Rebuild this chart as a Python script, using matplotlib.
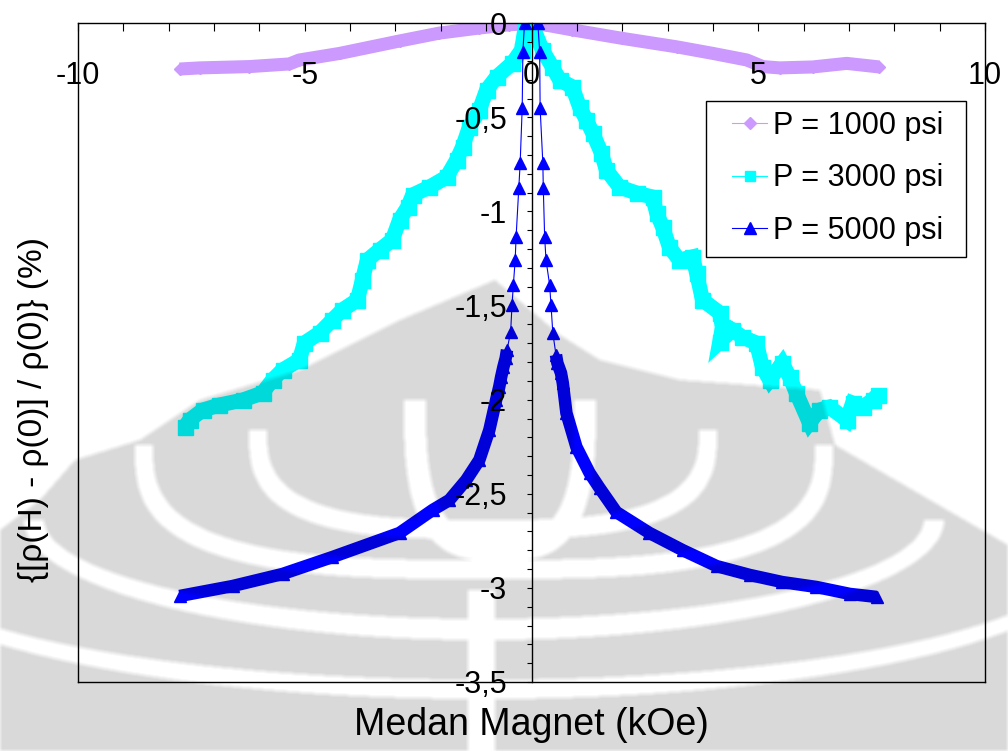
import numpy as np
import matplotlib
matplotlib.use("Agg")
import matplotlib.pyplot as plt
from matplotlib.lines import Line2D
from matplotlib.patches import Rectangle
from matplotlib.ticker import MultipleLocator, FuncFormatter

plt.rcParams['font.family'] = ['Liberation Sans', 'DejaVu Sans']
plt.rcParams['axes.unicode_minus'] = False

# Magnetic field H (kOe) and relative change in resistivity (%)
h_1000 = [-7.76, -7.32, -6.22, -5.34, -5.12, -4.23, -2.91, -2.03, -1.15, -0.49, 0.0,
          0.33, 0.90, 2.00, 3.20, 4.00, 4.75, 5.10, 5.47, 6.20, 6.95, 7.67]
mr_1000 = [-0.243, -0.237, -0.230, -0.216, -0.195, -0.160, -0.094, -0.052, -0.025, -0.008, 0.0,
           -0.010, -0.035, -0.080, -0.125, -0.160, -0.195, -0.230, -0.237, -0.232, -0.213, -0.232]

h_3000 = [-7.65, -7.54, -7.25, -6.88, -6.37, -5.93, -5.71, -5.49, -5.12, -5.01, -4.67,
          -4.39, -4.17, -3.84, -3.73, -3.62, -3.35, -3.07, -2.91, -2.73, -2.62, -2.25,
          -1.87, -1.65, -1.52, -1.37, -1.15, -0.99, -0.77, -0.42, -0.22, -0.15, 0.0,
          0.24, 0.46, 0.62, 0.90, 1.06, 1.21, 1.35, 1.54, 1.65, 1.94, 2.32, 2.67,
          2.76, 2.89, 3.04, 3.26, 3.55, 3.64, 3.77, 4.15, 4.21, 4.15, 4.43, 4.65,
          4.96, 5.09, 5.25, 5.53, 5.69, 5.84, 6.13, 6.35, 6.57, 6.95, 7.08, 7.30,
          7.52, 7.63]
mr_3000 = [-2.145, -2.108, -2.055, -2.028, -2.002, -1.964, -1.895, -1.842, -1.789, -1.699, -1.645,
           -1.576, -1.523, -1.470, -1.364, -1.258, -1.204, -1.151, -1.045, -0.976, -0.912, -0.870,
           -0.817, -0.726, -0.657, -0.551, -0.461, -0.354, -0.285, -0.211, -0.142, -0.036, 0.0,
           -0.142, -0.232, -0.301, -0.338, -0.445, -0.514, -0.583, -0.689, -0.779, -0.870, -0.902, -0.923,
           -1.008, -1.082, -1.189, -1.258, -1.241, -1.327, -1.470, -1.539, -1.614, -1.693, -1.630, -1.667,
           -1.699, -1.826, -1.895, -1.805, -1.879, -1.964, -2.124, -2.055, -2.039, -2.108, -2.018, -2.039,
           -2.002, -1.975]

h_5000 = [-7.76, -6.59, -5.49, -4.39, -2.91, -2.18, -1.81, -1.44, -1.15, -0.93, -0.78,
          -0.71, -0.67, -0.62, -0.57, -0.54, -0.46, -0.43, -0.40, -0.36, -0.34, -0.28,
          -0.25, -0.205, -0.19, -0.154,
          0.14, 0.18, 0.19, 0.25, 0.26, 0.29, 0.32, 0.40, 0.43, 0.47, 0.54,
          0.57, 0.65, 0.69, 0.77, 0.99, 1.28, 1.50, 1.87, 2.60, 3.33, 4.08,
          4.81, 5.53, 6.28, 7.02, 7.61]
mr_5000 = [-3.043, -2.990, -2.926, -2.836, -2.708, -2.586, -2.533, -2.427, -2.320, -2.161, -2.001,
           -1.930, -1.880, -1.826, -1.780, -1.736, -1.640, -1.497, -1.390, -1.258, -1.136, -0.875,
           -0.742, -0.450, -0.151, 0.0,
           0.0, -0.151, -0.450, -0.742, -0.875, -1.136, -1.258, -1.390, -1.497, -1.645, -1.762,
           -1.805, -1.858, -1.911, -2.071, -2.251, -2.389, -2.469, -2.597, -2.708, -2.799, -2.884,
           -2.931, -2.969, -2.995, -3.032, -3.048]

labels = ["P = 1000 psi", "P = 3000 psi", "P = 5000 psi"]
colors = ["#CC99FF", "#00FFFF", "#0000FF"]

x_ticks_major = 5
x_ticks_minor = 1
y_ticks_major = 0.5
y_ticks_minor = 0.1

W, H = 1008, 751
fig = plt.figure(figsize=(W / 100, H / 100), dpi=100)
ax = fig.add_axes([78 / W, 1 - 682 / H, 907 / W, 658.7 / H])
ax.set_xlim(-10, 10)
ax.set_ylim(-3.5, 0)
ax.set_facecolor('none')
ax.set_axisbelow(False)

# P = 1000 psi : dense diamonds forming a thick band
ax.plot(h_1000, mr_1000, color=colors[0], lw=9.4, solid_joinstyle='round',
        solid_capstyle='butt', zorder=2.0)
ax.plot(h_1000, mr_1000, ls='none', marker='D', ms=6.6, color=colors[0], zorder=2.0)

# P = 3000 psi : dense squares
ax.plot(h_3000, mr_3000, color=colors[1], lw=10.8, solid_joinstyle='miter',
        solid_capstyle='butt', zorder=2.1)
ax.plot(h_3000, mr_3000, ls='none', marker='s', ms=10.8, color=colors[1], zorder=2.1)

# P = 5000 psi : triangles joined by a thin line; dense band at larger fields
ax.plot(h_5000, mr_5000, color=colors[2], lw=0.8, zorder=2.2)
ax.plot(h_5000, mr_5000, ls='none', marker='^', ms=8.6, color=colors[2], zorder=2.2)
dense = [(h, m) for h, m in zip(h_5000, mr_5000) if m <= -1.73]
for side in (-1, 1):
    bh = [h for h, m in dense if h * side > 0]
    bm = [m for h, m in dense if h * side > 0]
    ax.plot(bh, bm, color=colors[2], lw=9.0, solid_joinstyle='round',
            solid_capstyle='butt', zorder=2.2)

# Frame: box plus a vertical axis through H = 0
for s in ('top', 'bottom', 'right'):
    ax.spines[s].set_linewidth(1.0)
    ax.spines[s].set_color('black')
ax.spines['left'].set_position(('data', 0))
ax.spines['left'].set_linewidth(1.0)
ax.plot([0, 0], [0, 1], transform=ax.transAxes, color='black', lw=1.0,
        clip_on=False, zorder=2.6)

# x axis runs along the top (rho change = 0), labels sit inside the box
ax.xaxis.set_ticks_position('top')
ax.xaxis.set_major_locator(MultipleLocator(x_ticks_major))
ax.xaxis.set_minor_locator(MultipleLocator(x_ticks_minor))
ax.tick_params(axis='x', which='both', direction='in', length=5.8, width=0.8,
               top=True, bottom=False, labeltop=True, labelbottom=False,
               labelsize=22, pad=-49)


def comma_fmt(v, pos):
    s = f"{v:.1f}".rstrip('0').rstrip('.')
    if s in ('-0', ''):
        s = '0'
    return s.replace('.', ',')


ax.xaxis.set_major_formatter(FuncFormatter(comma_fmt))
ax.yaxis.set_major_locator(MultipleLocator(y_ticks_major))
ax.yaxis.set_minor_locator(MultipleLocator(y_ticks_minor))
ax.yaxis.set_major_formatter(FuncFormatter(comma_fmt))
ax.tick_params(axis='y', which='both', direction='out', length=3.6, width=0.8,
               left=True, right=False, labelsize=22, pad=14)

ax.set_xlabel("Medan Magnet (kOe)", fontsize=27, va='center')
ax.xaxis.set_label_coords(0.5, -0.0653)
ax.set_ylabel("{[ρ(H) - ρ(0)] / ρ(0)} (%)", fontsize=24, va='center')
ax.yaxis.set_label_coords(-0.0496, 0.414)

# Legend: square black frame drawn as a patch, entries placed inside it
frame = Rectangle((706 / W, 1 - 257 / H), 260 / W, 156 / H, transform=fig.transFigure,
                  facecolor='white', edgecolor='black', lw=1.0, zorder=4.9)
ax.add_patch(frame)
frame.set_clip_on(False)
handles = [
    Line2D([], [], color=colors[0], lw=0.8, marker='D', ms=6.2),
    Line2D([], [], color=colors[1], lw=0.8, marker='s', ms=7.5),
    Line2D([], [], color=colors[2], lw=0.8, marker='^', ms=8.6),
]
leg = ax.legend(handles, labels, loc='upper left',
                bbox_to_anchor=(732 / W, 1 - 111 / H), bbox_transform=fig.transFigure,
                fontsize=22, frameon=False, borderpad=0, labelspacing=0.73,
                handlelength=1.15, handletextpad=0.2, borderaxespad=0)
leg.set_zorder(5)

# Faint emblem watermark laid over the page (darkens what lies beneath)
yy, xx = np.mgrid[0:H, 0:W] + 0.5
edge_x = [0, 40, 75, 140, 200, 300, 400, 495, 560, 600, 680, 820, 835, 930, 1008]
edge_y = [530, 500, 460, 440, 400, 370, 320, 280, 335, 360, 380, 390, 445, 500, 545]
gray = yy >= np.interp(xx[0], edge_x, edge_y)[None, :]


def inside(cx, a, y0, b, n):
    dx = np.abs(xx - cx) / a
    dy = (yy - y0) / b
    return (dx ** n + np.abs(dy) ** n <= 1) & (yy >= y0)


def crescent(cx, a, y0, b, w, n):
    return inside(cx, a + w / 2, y0, b + w / 2, n) & ~inside(cx, a - w / 2, y0 - 1, b - w / 2, n)


white = (crescent(484, 600, 560, 130, 18, 2)
         | crescent(484, 450, 520, 110, 20, 2)
         | crescent(484, 340, 445, 125, 18, 3)
         | crescent(483, 225, 430, 100, 18, 3)
         | crescent(500, 85, 400, 150, 22, 3)
         | ((xx > 468) & (xx < 495) & (yy > 590)))
mask = (gray & ~white).astype(float)
k = np.ones(5) / 5
mask = np.apply_along_axis(lambda v: np.convolve(v, k, mode='same'), 0, mask)
mask = np.apply_along_axis(lambda v: np.convolve(v, k, mode='same'), 1, mask)
rgba = np.zeros((H, W, 4))
rgba[..., 3] = 0.15 * mask
ov = fig.add_axes([0, 0, 1, 1], zorder=10)
ov.imshow(rgba, extent=(0, W, H, 0), interpolation='nearest', aspect='auto')
ov.set_xlim(0, W)
ov.set_ylim(H, 0)
ov.axis('off')

fig.savefig("out.png", dpi=100, facecolor='white')
